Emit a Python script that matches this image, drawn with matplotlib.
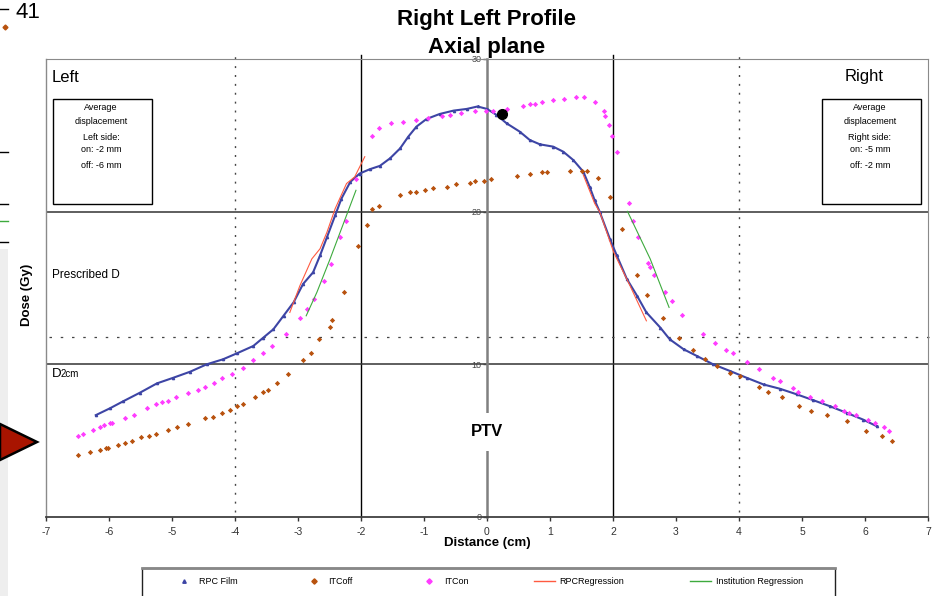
import matplotlib
matplotlib.use("Agg")
import matplotlib.pyplot as plt
from matplotlib.patches import Rectangle, Polygon
from matplotlib.lines import Line2D

plt.rcParams['font.family'] = ['Liberation Sans', 'DejaVu Sans']
plt.rcParams['axes.unicode_minus'] = False

# ---------------- data ----------------
film_x = [-6.21, -5.98, -5.77, -5.51, -5.24, -4.98, -4.71, -4.45, -4.19, -3.97,
          -3.71, -3.55, -3.39, -3.23, -3.07, -2.92, -2.76, -2.65, -2.54, -2.41,
          -2.31, -2.17, -2.02, -1.86, -1.70, -1.54, -1.38, -1.25, -1.12, -0.96,
          -0.75, -0.53, -0.32, -0.15, 0.00, 0.15, 0.31, 0.52, 0.68, 0.84,
          1.05, 1.21, 1.37, 1.53, 1.63, 1.71, 1.79, 1.95, 2.06, 2.22,
          2.38, 2.53, 2.75, 2.90, 3.12, 3.33, 3.59, 3.86, 4.12, 4.39,
          4.65, 4.92, 5.18, 5.44, 5.71, 5.97, 6.19]
film_y = [6.67, 7.13, 7.59, 8.14, 8.75, 9.12, 9.52, 10.00, 10.33, 10.72,
          11.20, 11.75, 12.30, 13.18, 14.06, 15.26, 16.03, 17.13, 18.33, 19.76,
          20.86, 21.95, 22.50, 22.78, 23.00, 23.49, 24.14, 24.91, 25.57, 26.07,
          26.40, 26.62, 26.73, 26.89, 26.73, 26.34, 25.79, 25.24, 24.69, 24.41,
          24.26, 23.93, 23.38, 22.61, 21.62, 20.74, 19.98, 18.22, 17.13, 15.59,
          14.50, 13.40, 12.41, 11.64, 10.99, 10.55, 10.00, 9.56, 9.12, 8.68,
          8.40, 8.03, 7.65, 7.26, 6.82, 6.38, 5.94]

off_x = [-6.50, -6.30, -6.14, -6.05, -6.02, -5.86, -5.75, -5.64, -5.50, -5.36,
         -5.25, -5.06, -4.92, -4.75, -4.47, -4.35, -4.21, -4.08, -3.97, -3.88,
         -3.69, -3.55, -3.47, -3.33, -3.16, -2.92, -2.80, -2.66, -2.49, -2.46,
         -2.27, -2.05, -1.91, -1.83, -1.72, -1.38, -1.22, -1.13, -0.99, -0.85,
         -0.63, -0.49, -0.27, -0.19, -0.05, 0.06, 0.48, 0.68, 0.87, 0.96,
         1.32, 1.51, 1.59, 1.76, 1.95, 2.15, 2.38, 2.54, 2.79, 3.04,
         3.27, 3.46, 3.65, 3.85, 4.02, 4.32, 4.46, 4.68, 4.96, 5.15,
         5.40, 5.71, 6.02, 6.27, 6.43]
off_y = [4.03, 4.28, 4.41, 4.52, 4.55, 4.74, 4.85, 4.96, 5.22, 5.33,
         5.44, 5.68, 5.90, 6.12, 6.47, 6.56, 6.82, 7.04, 7.30, 7.37,
         7.85, 8.18, 8.29, 8.75, 9.34, 10.28, 10.74, 11.64, 12.46, 12.89,
         14.76, 17.74, 19.12, 20.15, 20.37, 21.07, 21.29, 21.29, 21.40, 21.53,
         21.64, 21.78, 21.89, 21.99, 21.99, 22.11, 22.35, 22.46, 22.57, 22.57,
         22.68, 22.68, 22.68, 22.22, 20.97, 18.88, 15.88, 14.54, 13.03, 11.75,
         10.94, 10.35, 9.91, 9.45, 9.23, 8.53, 8.18, 7.85, 7.28, 6.93,
         6.71, 6.27, 5.66, 5.33, 4.98]

on_x = [-6.50, -6.42, -6.25, -6.14, -6.08, -5.98, -5.95, -5.75, -5.60, -5.39,
        -5.25, -5.16, -5.06, -4.94, -4.75, -4.58, -4.47, -4.34, -4.20, -4.05,
        -3.88, -3.72, -3.56, -3.41, -3.19, -2.97, -2.85, -2.74, -2.58, -2.47,
        -2.33, -2.24, -2.08, -1.83, -1.71, -1.52, -1.33, -1.13, -0.94, -0.71,
        -0.58, -0.41, -0.19, -0.02, 0.09, 0.31, 0.57, 0.68, 0.76, 0.87,
        1.04, 1.23, 1.42, 1.54, 1.71, 1.85, 1.87, 1.93, 1.98, 2.07,
        2.26, 2.31, 2.40, 2.56, 2.59, 2.65, 2.82, 2.93, 3.10, 3.43,
        3.62, 3.79, 3.90, 4.12, 4.32, 4.54, 4.65, 4.85, 4.93, 5.13,
        5.32, 5.52, 5.66, 5.74, 5.85, 6.05, 6.16, 6.30, 6.38]
on_y = [5.33, 5.44, 5.68, 5.90, 6.03, 6.14, 6.14, 6.49, 6.71, 7.15,
        7.37, 7.52, 7.59, 7.85, 8.14, 8.31, 8.53, 8.80, 9.10, 9.35,
        9.78, 10.28, 10.72, 11.18, 11.97, 13.03, 13.62, 14.30, 15.44, 16.58,
        18.31, 19.36, 22.11, 24.98, 25.46, 25.79, 25.90, 26.01, 26.14, 26.25,
        26.36, 26.49, 26.60, 26.60, 26.60, 26.71, 26.93, 27.06, 27.06, 27.17,
        27.30, 27.39, 27.52, 27.52, 27.17, 26.60, 26.25, 25.68, 24.98, 23.94,
        20.58, 19.36, 18.31, 16.62, 16.36, 15.88, 14.76, 14.17, 13.24, 12.00,
        11.43, 10.94, 10.72, 10.15, 9.69, 9.12, 8.88, 8.42, 8.20, 7.85,
        7.61, 7.28, 6.93, 6.82, 6.71, 6.36, 6.14, 5.90, 5.66]

rpc_reg_left_x = [-3.13, -2.97, -2.78, -2.65, -2.54, -2.41, -2.23, -2.10, -1.94]
rpc_reg_left_y = [13.40, 15.15, 16.91, 17.57, 18.66, 20.20, 21.84, 22.28, 23.60]
rpc_reg_right_x = [1.53, 1.71, 1.79, 2.01, 2.27, 2.53]
rpc_reg_right_y = [22.39, 20.53, 19.98, 17.35, 15.15, 12.85]

inst_reg_left_x = [-2.87, -2.70, -2.49, -2.08]
inst_reg_left_y = [13.18, 14.72, 16.91, 21.40]
inst_reg_right_x = [2.23, 2.59, 2.89]
inst_reg_right_y = [20.02, 16.91, 13.73]

marker_x = [0.24]
marker_y = [26.4]

x_ticks = list(range(-7, 8))
y_ticks = [0, 10, 20, 30]
prescribed_dose = 20
d2cm_dose = 10
dotted_dose = 11.8
ptv_edges = [-2, 2]
outer_edges = [-4, 4]

legend_labels = ['RPC Film', 'ITCoff', 'ITCon', 'RPCRegression', 'Institution Regression']

# ---------------- colours ----------------
C_FILM = '#3D45A5'
C_OFF = '#B8520E'
C_ON = '#FF3CFF'
C_RPCREG = '#FF5A40'
C_INST = '#3DAA3D'

W, H = 932, 596
def fx(p): return p / W
def fy(p): return 1 - p / H

fig = plt.figure(figsize=(W / 100, H / 100), dpi=100)
ax = fig.add_axes([fx(46), fy(517), 882 / W, 458 / H])
ax.set_xlim(-7, 7)
ax.set_ylim(0, 30)

# reference lines
for xv in ptv_edges:
    ax.axvline(xv, ymin=0, ymax=1.009, color='black', lw=1.0, clip_on=False, zorder=1)
for xv in outer_edges:
    ax.axvline(xv, ymin=0.01, ymax=1.009, color='#444444', lw=1.0,
               linestyle=(0, (1.4, 5)), clip_on=False, zorder=1)
ax.axhline(prescribed_dose, color='#333333', lw=1.1, zorder=1)
ax.axhline(d2cm_dose, color='#333333', lw=1.1, zorder=1)
ax.axhline(dotted_dose, xmin=0.003, xmax=1.004, color='#444444', lw=0.9,
           linestyle=(0, (2, 7)), zorder=1, clip_on=False)

# data
ax.plot(film_x, film_y, color=C_FILM, lw=1.5, marker='^', ms=1.6, zorder=3)
ax.plot(off_x, off_y, linestyle='none', marker='D', ms=2.7, color=C_OFF,
        markeredgewidth=0, zorder=4)
ax.plot(on_x, on_y, linestyle='none', marker='D', ms=2.7, color=C_ON,
        markeredgewidth=0, zorder=4)
ax.plot(rpc_reg_left_x, rpc_reg_left_y, color=C_RPCREG, lw=0.8, zorder=5)
ax.plot(rpc_reg_right_x, rpc_reg_right_y, color=C_RPCREG, lw=0.8, zorder=5)
ax.plot(inst_reg_left_x, inst_reg_left_y, color=C_INST, lw=0.8, zorder=5)
ax.plot(inst_reg_right_x, inst_reg_right_y, color=C_INST, lw=0.8, zorder=5)
ax.plot(marker_x, marker_y, 'o', color='black', ms=7, zorder=6)

# axes styling (Excel-like: y axis crossing at x=0)
ax.spines['left'].set_position(('data', 0))
ax.spines['left'].set_color('#808080')
ax.spines['left'].set_linewidth(1.8)
ax.spines['top'].set_color('#8a8a8a')
ax.spines['right'].set_color('#8a8a8a')
ax.spines['bottom'].set_color('#404040')
ax.spines['bottom'].set_linewidth(1.3)
ax.axvline(-7, color='#8a8a8a', lw=1.0, clip_on=False, zorder=1)

ax.set_xticks(x_ticks)
ax.set_xticklabels([str(v) for v in x_ticks])
ax.set_yticks(y_ticks)
ax.set_yticklabels([str(v) for v in y_ticks])
ax.tick_params(axis='x', direction='out', length=3, width=1, labelsize=7.5,
               pad=4.5, colors='#333333')
ax.tick_params(axis='y', direction='out', length=3, width=1, labelsize=6.5,
               pad=1, colors='#444444')

# titles and labels
fig.text(fx(487), fy(20), 'Right Left Profile', ha='center', va='center',
         fontsize=16, fontweight='bold')
fig.text(fx(487), fy(47), 'Axial plane', ha='center', va='center',
         fontsize=16, fontweight='bold')
fig.text(fx(27), fy(295), 'Dose (Gy)', rotation=90, ha='center', va='center',
         fontsize=9.5, fontweight='bold')
fig.text(fx(487), fy(543), 'Distance (cm)', ha='center', va='center',
         fontsize=9.5, fontweight='bold')

fig.text(fx(52), fy(77), 'Left', ha='left', va='center', fontsize=12)
fig.text(fx(845), fy(77), 'Right', ha='left', va='center', fontsize=12)
fig.text(fx(52), fy(275), 'Prescribed D', ha='left', va='center', fontsize=8.5)
fig.text(fx(52), fy(377), 'D', ha='left', va='baseline', fontsize=9.5)
fig.text(fx(61), fy(377), '2cm', ha='left', va='baseline', fontsize=7)
fig.text(fx(487), fy(432), 'PTV', ha='center', va='center', fontsize=12,
         fontweight='bold',
         bbox=dict(facecolor='white', edgecolor='none', pad=8))

# displacement boxes
for bx, side, on_t, off_t in [(53, 'Left side:', 'on: -2 mm', 'off: -6 mm'),
                              (822, 'Right side:', 'on: -5 mm', 'off: -2 mm')]:
    fig.add_artist(Rectangle((fx(bx), fy(204)), 99 / W, 105 / H, fill=False,
                             edgecolor='black', lw=1.0, transform=fig.transFigure))
    cx = bx + 48
    for ty, t in [(107, 'Average'), (121, 'displacement'), (137, side),
                  (150, on_t), (165, off_t)]:
        fig.text(fx(cx), fy(ty), t, ha='center', va='center', fontsize=6.5)

# legend
handles = [
    Line2D([], [], linestyle='none', marker='^', ms=2.5, color=C_FILM),
    Line2D([], [], linestyle='none', marker='D', ms=2.7, color=C_OFF),
    Line2D([], [], linestyle='none', marker='D', ms=2.7, color=C_ON),
    Line2D([], [], color=C_RPCREG, lw=1),
    Line2D([], [], color=C_INST, lw=1),
]
fig.legend(handles, legend_labels, loc='center', bbox_to_anchor=(fx(488), fy(582)),
           ncol=5, frameon=False, fontsize=6.5, columnspacing=7.3,
           handlelength=2.3, handletextpad=0.5, numpoints=1)
fig.add_artist(Rectangle((fx(142), -0.05), (835 - 142) / W, fy(568) + 0.05,
                         fill=False, edgecolor='#222222', lw=1.0,
                         transform=fig.transFigure))
fig.add_artist(Line2D([fx(142), fx(835)], [fy(568), fy(568)], color='#888888',
                      lw=2, transform=fig.transFigure))

# fragments of neighbouring slide at the left edge
fig.add_artist(Rectangle((0, 0), 8 / W, fy(249), facecolor='#EEEEEE',
                         edgecolor='none', transform=fig.transFigure, zorder=0))
fig.text(fx(16), fy(13), '41', ha='left', va='center', fontsize=16)
for yy, col in [(9, 'black'), (152, 'black'), (204, 'black'), (221, '#3DAA3D'), (242, 'black')]:
    fig.add_artist(Line2D([0, fx(8)], [fy(yy), fy(yy)], color=col, lw=1,
                          transform=fig.transFigure))
fig.add_artist(Line2D([fx(5)], [fy(27)], marker='D', ms=2.5, color=C_OFF,
                      linestyle='none', transform=fig.transFigure))
fig.add_artist(Polygon([(0, fy(424)), (fx(37), fy(442)), (0, fy(460))], closed=True,
                       facecolor='#A81400', edgecolor='black', lw=1.8,
                       transform=fig.transFigure))

fig.savefig('out.png', dpi=100)
